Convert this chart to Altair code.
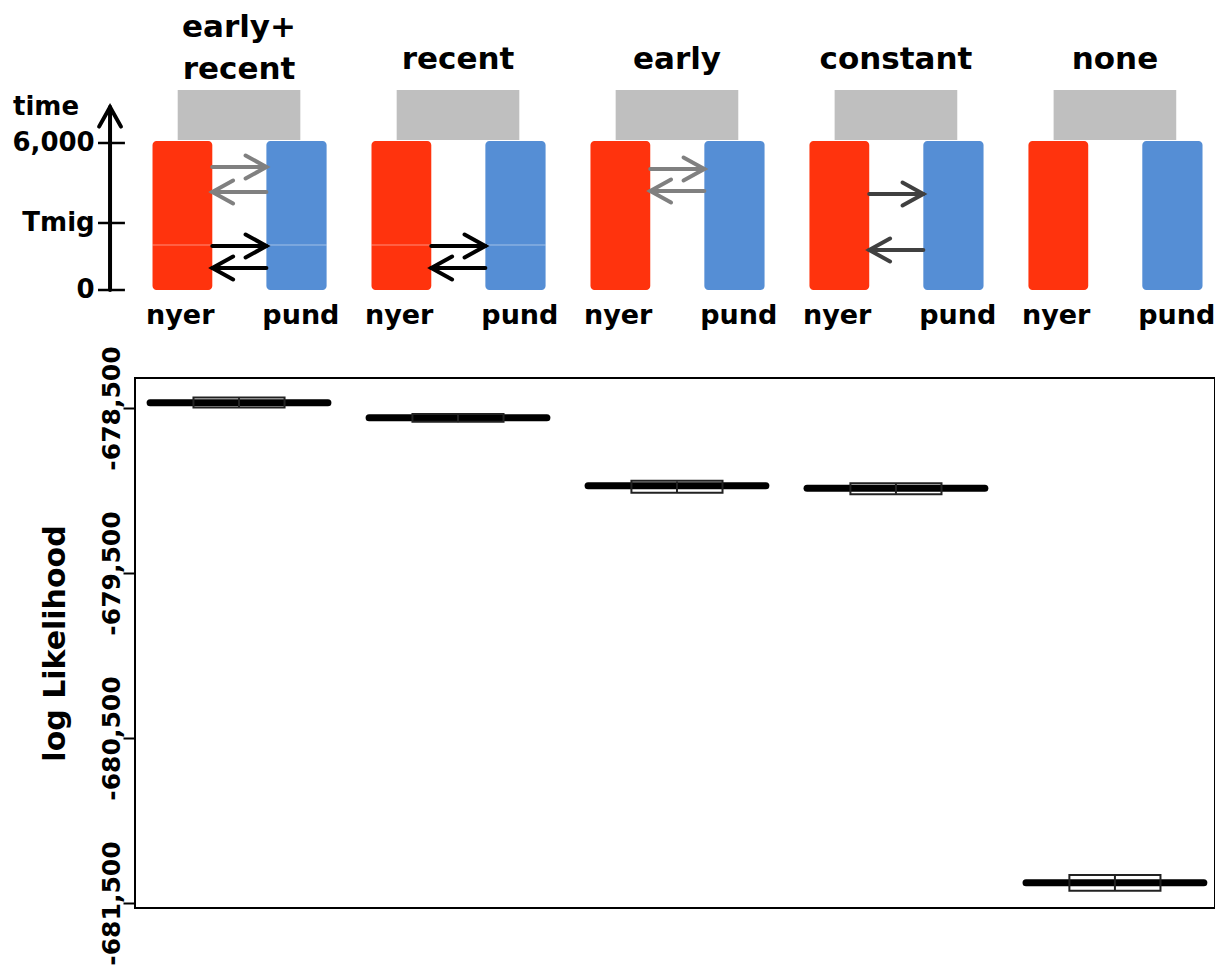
import altair as alt
import pandas as pd

# ---------------- data ----------------
models = ["early+\nrecent", "recent", "early", "constant", "none"]
ll_low = [-678500, -678586, -679010, -679020, -681422]
ll_q1 = [-678497, -678583, -679013, -679023, -681425]
ll_med = [-678468, -678559, -678971, -678987, -681377]
ll_q3 = [-678436, -678536, -678941, -678956, -681330]
ll_high = [-678440, -678539, -678945, -678960, -681334]
ll_ticks = [-678500, -679500, -680500, -681500]

# schematic time axis
time_ticks = [6000, 2735, 0]
time_tick_labels = ["6,000", "Tmig", "0"]
t_split = 1837  # visual split of populations at Tmig for recent models
split_models = [0, 1]

# migration arrows: model index, time, direction, period
arrow_model = [0, 0, 0, 0, 1, 1, 2, 2, 3, 3]
arrow_time = [5020, 4000, 1796, 898, 1796, 898, 4939, 4041, 3918, 1633]
arrow_dir = ["r", "l", "r", "l", "r", "l", "r", "l", "r", "l"]
arrow_period = ["early", "early", "recent", "recent", "recent", "recent",
                "early", "early", "constant", "constant"]
pop_labels = ["nyer", "pund"]

# ---------------- styles / geometry ----------------
FONT = "DejaVu Sans"
RED = "#ff330d"
BLUE = "#558ed5"
GREY = "#bfbfbf"
period_color = {"early": "#808080", "recent": "#000000", "constant": "#404040"}

X_DOM = [-0.475, 4.457]
LL_DOM = [-681530, -676076]
T_DOM = [-25224, 11510]
RED_X = (-0.395, -0.122)
BLUE_X = (0.125, 0.400)
ANC_X = 0.28
T_POP = 6082
T_ANC = (6122, 8163)
T_TITLE = 9020          # baseline of a single-line title
T_TITLE_SHIFT = 408     # extra drop of last line per extra line
T_LINE = 1714           # title line spacing
T_POPLAB = -1388
AX_X = -0.589
T_AXTOP = 7469

xs = alt.Scale(domain=X_DOM, nice=False, zero=False)
ts = alt.Scale(domain=T_DOM, nice=False, zero=False)
ls = alt.Scale(domain=LL_DOM, nice=False, zero=False)

ll_axis = alt.Axis(
    values=ll_ticks, labelExpr="replace(format(datum.value, ','), '\u2212', '-')",
    title="log Likelihood", domain=False, grid=False,
    labelAngle=270, labelAlign="center", labelBaseline="bottom",
    labelFont=FONT, labelFontWeight="bold", labelFontSize=25, labelColor="black",
    labelPadding=-1, labelOverlap=False, labelFlush=False,
    tickSize=12, tickWidth=2, tickColor="black",
    titleFont=FONT, titleFontWeight="bold", titleFontSize=30, titleColor="black",
    titleAngle=270, titleAlign="center", titleBaseline="middle",
    titleX=-80, titleY=635)


def X(f):
    return alt.X(f, type="quantitative", scale=xs, axis=None)


def T(f):
    return alt.Y(f, type="quantitative", scale=ts, axis=None)


def L(f):
    return alt.Y(f, type="quantitative", scale=ls, axis=ll_axis)


n = len(models)
idx = list(range(n))

# populations
pop_rows = []
for i in idx:
    pop_rows.append(dict(x=i + RED_X[0], x2=i + RED_X[1], t=0, t2=T_POP, c=RED))
    pop_rows.append(dict(x=i + BLUE_X[0], x2=i + BLUE_X[1], t=0, t2=T_POP, c=BLUE))
pops = pd.DataFrame(pop_rows)
anc = pd.DataFrame(dict(x=[i - ANC_X for i in idx], x2=[i + ANC_X for i in idx],
                        t=[T_ANC[0]] * n, t2=[T_ANC[1]] * n))

anc_layer = alt.Chart(anc).mark_rect(color=GREY).encode(
    x=X("x"), x2="x2", y=T("t"), y2="t2")
pop_layer = alt.Chart(pops).mark_rect(cornerRadius=4).encode(
    x=X("x"), x2="x2", y=T("t"), y2="t2", color=alt.Color("c:N", scale=None))

split_rows = []
for i in split_models:
    split_rows.append(dict(x=i + RED_X[0], x2=i + RED_X[1], t=t_split))
    split_rows.append(dict(x=i + BLUE_X[0], x2=i + BLUE_X[1], t=t_split))
split_layer = alt.Chart(pd.DataFrame(split_rows)).mark_rule(
    color="white", opacity=0.3, strokeWidth=1.5).encode(x=X("x"), x2="x2", y=T("t"))

# arrows
arows = []
for k, (m, t, d, p) in enumerate(zip(arrow_model, arrow_time, arrow_dir, arrow_period)):
    if d == "r":
        tail, tip, s = m + RED_X[1], m + BLUE_X[0], 1
    else:
        tail, tip, s = m + BLUE_X[0], m + RED_X[1], -1
    col = period_color[p]
    arows += [dict(seg=f"a{k}s", o=0, x=tail, t=t, c=col),
              dict(seg=f"a{k}s", o=1, x=tip, t=t, c=col),
              dict(seg=f"a{k}h", o=0, x=tip - s * 0.095, t=t + 470, c=col),
              dict(seg=f"a{k}h", o=1, x=tip, t=t, c=col),
              dict(seg=f"a{k}h", o=2, x=tip - s * 0.095, t=t - 470, c=col)]
# time axis arrow
arows += [dict(seg="ax", o=0, x=AX_X, t=0, c="black"),
          dict(seg="ax", o=1, x=AX_X, t=T_AXTOP, c="black"),
          dict(seg="axh", o=0, x=AX_X - 0.05, t=T_AXTOP - 800, c="black"),
          dict(seg="axh", o=1, x=AX_X, t=T_AXTOP, c="black"),
          dict(seg="axh", o=2, x=AX_X + 0.05, t=T_AXTOP - 800, c="black")]
arrow_layer = alt.Chart(pd.DataFrame(arows)).mark_line(
    strokeWidth=4, strokeCap="round", strokeJoin="miter").encode(
    x=X("x"), y=T("t"), detail="seg:N", order="o:Q",
    color=alt.Color("c:N", scale=None))

tick_df = pd.DataFrame(dict(x=[AX_X - 0.055] * 3, x2=[AX_X + 0.068] * 3,
                            t=time_ticks, lab=time_tick_labels,
                            lx=[AX_X - 0.07] * 3, dy=[0, -6, 0]))
tick_layer = alt.Chart(tick_df).mark_rule(color="black", strokeWidth=2.5).encode(
    x=X("x"), x2="x2", y=T("t"))
tick_lab_layer = alt.Chart(tick_df).mark_text(
    font=FONT, fontWeight="bold", fontSize=26, align="right", baseline="middle",
    color="black").encode(x=X("lx"), y=T("t"), text="lab:N", yOffset="dy:Q")

time_title = alt.Chart(pd.DataFrame(dict(x=[-1.032], t=[T_AXTOP], s=["time"]))).mark_text(
    font=FONT, fontWeight="bold", fontSize=26, align="left", baseline="middle",
    color="black").encode(x=X("x"), y=T("t"), text="s:N")

title_rows = []
for i, s in zip(idx, models):
    lines = s.split("\n")
    nl = len(lines)
    last = T_TITLE - (nl - 1) * T_TITLE_SHIFT
    for k, ln in enumerate(lines):
        title_rows.append(dict(x=i, t=last + (nl - 1 - k) * T_LINE, s=ln))
title_layer = alt.Chart(pd.DataFrame(title_rows)).mark_text(
    font=FONT, fontWeight="bold", fontSize=31, align="center", baseline="alphabetic",
    color="black").encode(x=X("x"), y=T("t"), text="s:N")

pl_rows = []
for i in idx:
    pl_rows.append(dict(x=i + (RED_X[0] + RED_X[1]) / 2 - 0.01, t=T_POPLAB, s=pop_labels[0]))
    pl_rows.append(dict(x=i + (BLUE_X[0] + BLUE_X[1]) / 2 + 0.02, t=T_POPLAB, s=pop_labels[1]))
poplab_layer = alt.Chart(pd.DataFrame(pl_rows)).mark_text(
    font=FONT, fontWeight="bold", fontSize=27, align="center", baseline="alphabetic",
    color="black").encode(x=X("x"), y=T("t"), text="s:N")

diagram = alt.layer(anc_layer, pop_layer, split_layer, arrow_layer, tick_layer,
                    tick_lab_layer, time_title, title_layer, poplab_layer)

# ---------------- likelihood boxplots ----------------
box = pd.DataFrame(dict(m=idx, lo=ll_low, q1=ll_q1, med=ll_med, q3=ll_q3, hi=ll_high))
box["xl"] = box["m"] - 0.406
box["xr"] = box["m"] + 0.406
box["bl"] = box["m"] - 0.208
box["br"] = box["m"] + 0.208

frame = alt.Chart(pd.DataFrame(dict(x=[X_DOM[0]], x2=[X_DOM[1]], y=[LL_DOM[0]],
                                    y2=[-678318]))).mark_rect(
    fillOpacity=0, stroke="black", strokeWidth=2).encode(
    x=X("x"), x2="x2", y=L("y"), y2="y2")

med_layer = alt.Chart(box).mark_rule(color="black", strokeWidth=7, strokeCap="round").encode(
    x=X("xl"), x2="xr", y=L("med"))
box_layer = alt.Chart(box).mark_rect(fillOpacity=0, stroke="#222222", strokeWidth=2).encode(
    x=X("bl"), x2="br", y=L("q1"), y2="q3")
whisk_layer = alt.Chart(box).mark_rule(color="#222222", strokeWidth=2).encode(
    x=X("m"), y=L("lo"), y2="hi")

lik = alt.layer(frame, med_layer, box_layer, whisk_layer)

chart = alt.layer(diagram, lik).resolve_scale(y="independent").properties(
    width=1080, height=900,
    autosize=alt.AutoSizeParams(type="none"),
    padding={"left": 127, "top": 0, "right": 0, "bottom": 58},
).configure_view(stroke=None)

chart.save("out.html", embed_options={"renderer": "svg", "actions": False})
